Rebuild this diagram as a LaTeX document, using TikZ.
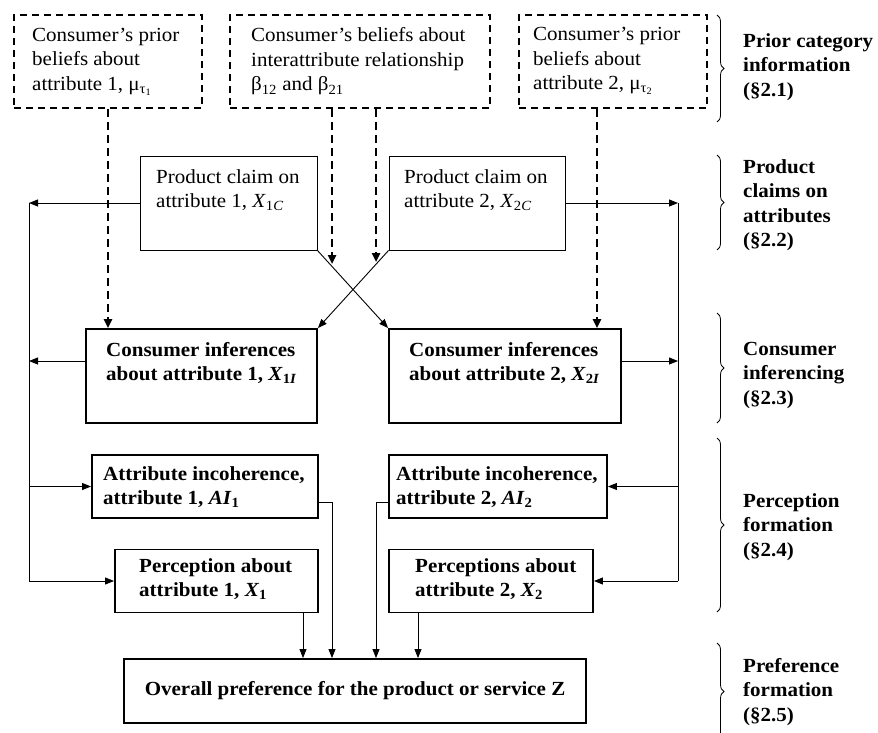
\documentclass[tikz,border=0pt]{standalone}
\usepackage{fontspec}
\setmainfont{Liberation Serif}[FakeStretch=1.05]
\usetikzlibrary{arrows.meta,decorations.pathreplacing}
\begin{document}
\begin{tikzpicture}[x=1pt,y=-1pt,
  every node/.style={font=\fontsize{20}{24.5}\selectfont},
  thinbox/.style={draw, line width=0.9pt, inner sep=0pt},
  thickbox/.style={draw, line width=1.9pt, inner sep=0pt},
  dbox/.style={draw, line width=2.5pt, dash pattern=on 7pt off 5pt, inner sep=0pt},
  txt/.style={anchor=west, align=left, inner sep=0pt},
  btxt/.style={anchor=west, align=left, inner sep=0pt, font=\fontsize{20}{24.5}\selectfont\bfseries},
  arr/.style={line width=0.9pt, -{Triangle[length=9pt,width=7pt]}},
  darr/.style={line width=2.6pt, dash pattern=on 8pt off 5pt, -{Triangle[length=9pt,width=8pt]}},
  brc/.style={draw, decorate, decoration={brace, amplitude=7pt}, line width=0.8pt},
]
\useasboundingbox (0,0) rectangle (878,732);

% top dashed boxes
\node[dbox, minimum width=188pt, minimum height=93pt] (pa) at (108,61.5) {};
\node[dbox, minimum width=260pt, minimum height=93pt] (pb) at (360,61.5) {};
\node[dbox, minimum width=188pt, minimum height=93pt] (pc) at (613,61.5) {};
\node[txt] (ta) at (32,61.5) {Consumer’s prior\\beliefs about\\attribute 1, μ\textsubscript{τ\textsubscript{1}}};
\node[txt] (tb) at (251,61.5) {Consumer’s beliefs about\\interattribute relationship\\β\textsubscript{12} and β\textsubscript{21}};
\node[txt] (tc) at (533,61) {Consumer’s prior\\beliefs about\\attribute 2, μ\textsubscript{τ\textsubscript{2}}};

% product claims
\node[thinbox, minimum width=177pt, minimum height=94pt] (p1) at (228.5,203) {};
\node[thinbox, minimum width=176pt, minimum height=94pt] (p2) at (477,203) {};
\node[txt] (tp1) at (156,190) {Product claim on\\attribute 1, \textit{X}\textsubscript{1\textit{C}}};
\node[txt] (tp2) at (404,190) {Product claim on\\attribute 2, \textit{X}\textsubscript{2\textit{C}}};

% consumer inferences
\node[thickbox, minimum width=231pt, minimum height=94pt] (ci1) at (201.5,376) {};
\node[thickbox, minimum width=232pt, minimum height=94pt] (ci2) at (505,376) {};
\node[btxt] (tci1) at (106,363) {Consumer inferences\\about attribute 1, \textit{X}\textsubscript{1\textit{I}}};
\node[btxt] (tci2) at (409,363) {Consumer inferences\\about attribute 2, \textit{X}\textsubscript{2\textit{I}}};

% attribute incoherence
\node[thickbox, minimum width=226pt, minimum height=63pt] (ai1) at (205,486.5) {};
\node[thickbox, minimum width=218pt, minimum height=63pt] (ai2) at (498,486.5) {};
\node[btxt] (tai1) at (103,487) {Attribute incoherence,\\attribute 1, \textit{AI}\textsubscript{1}};
\node[btxt] (tai2) at (396,487) {Attribute incoherence,\\attribute 2, \textit{AI}\textsubscript{2}};

% perceptions
\node[thickbox, minimum width=203pt, minimum height=63pt] (pe1) at (216.5,581) {};
\node[thickbox, minimum width=204pt, minimum height=63pt] (pe2) at (491,581) {};
\node[btxt] (tpe1) at (139,579) {Perception about\\attribute 1, \textit{X}\textsubscript{1}};
\node[btxt] (tpe2) at (415,579) {Perceptions about\\attribute 2, \textit{X}\textsubscript{2}};

% overall
\node[thickbox, minimum width=462pt, minimum height=64pt, font=\fontsize{20}{24.5}\selectfont\bfseries] (ov) at (355,691) {Overall preference for the product or service Z};

% coordinates for side lines
\coordinate (L1) at (29,203);
\coordinate (L2) at (29,361);
\coordinate (L3) at (29,486.5);
\coordinate (L4) at (29,581);
\coordinate (R1) at (678,203);
\coordinate (R2) at (678,361);
\coordinate (R3) at (678,486.5);
\coordinate (R4) at (678,581);

% left side
\draw[line width=0.9pt] (L1) -- (L4);
\draw[arr] (p1.west) -- (L1);
\draw[arr] (ci1.west |- L2) -- (L2);
\draw[arr] (L3) -- (ai1.west);
\draw[arr] (L4) -- (pe1.west);
% right side
\draw[line width=0.9pt] (R1) -- (R4);
\draw[arr] (p2.east) -- (R1);
\draw[arr] (ci2.east |- R2) -- (R2);
\draw[arr] (R3) -- (ai2.east);
\draw[arr] (R4) -- (pe2.east);

% crossing
\draw[arr] (p1.south east) -- (ci2.north west);
\draw[arr] (p2.south west) -- (ci1.north east);

% dashed arrows
\draw[darr] (pa.south -| 108,0) -- (ci1.north -| 108,0);
\draw[darr] (pc.south -| 597,0) -- (ci2.north -| 597,0);
\coordinate (d1) at (332,264);
\coordinate (d2) at (376,262);
\draw[darr] (pb.south -| d1) -- (d1);
\draw[darr] (pb.south -| d2) -- (d2);

% to overall
\coordinate (a1) at (332,502);
\coordinate (a2) at (376,502);
\draw[arr] (ai1.east |- a1) -- (a1) -- (ov.north -| a1);
\draw[arr] (ai2.west |- a2) -- (a2) -- (ov.north -| a2);
\draw[arr] (pe1.south -| 303,0) -- (ov.north -| 303,0);
\draw[arr] (pe2.south -| 418,0) -- (ov.north -| 418,0);

% braces and labels
\draw[brc] (717,15) -- (717,122);
\draw[brc] (717,155) -- (717,250);
\draw[brc] (717,313) -- (717,423);
\draw[brc] (717,438) -- (717,612);
\draw[brc] (717,643) -- (717,740);
\node[btxt] (s1) at (743,67) {Prior category\\information\\(§2.1)};
\node[btxt] (s2) at (743,205) {Product\\claims on\\attributes\\(§2.2)};
\node[btxt] (s3) at (743,375) {Consumer\\inferencing\\(§2.3)};
\node[btxt] (s4) at (743,527) {Perception\\formation\\(§2.4)};
\node[btxt] (s5) at (743,692) {Preference\\formation\\(§2.5)};
\end{tikzpicture}
\end{document}
